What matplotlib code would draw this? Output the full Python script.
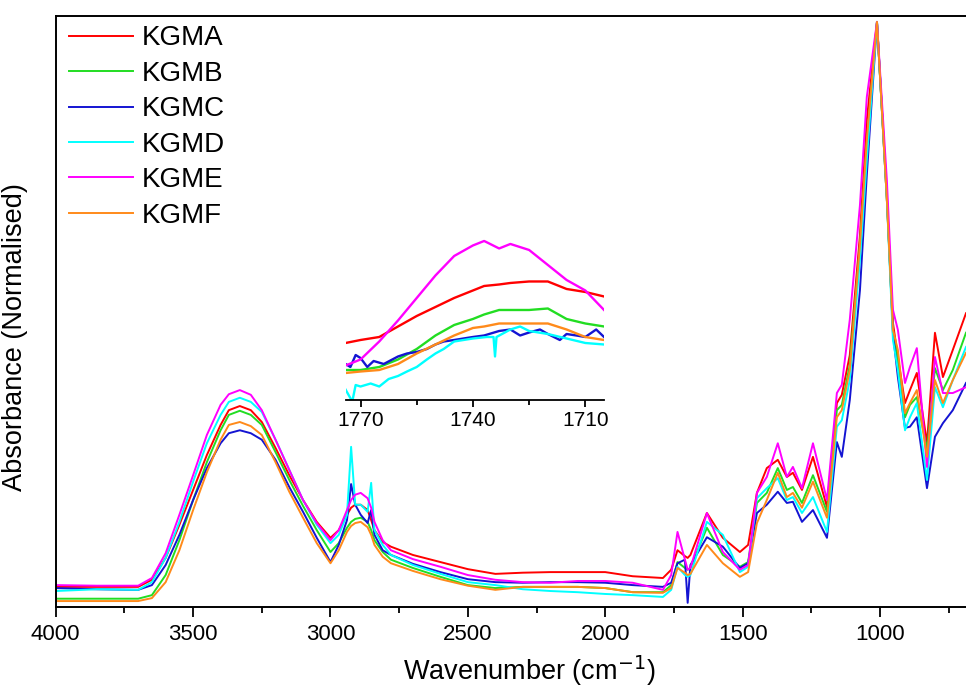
import matplotlib
matplotlib.use("Agg")
import matplotlib.pyplot as plt
from matplotlib.ticker import MultipleLocator, FixedLocator

plt.rcParams['font.family'] = ['Liberation Sans', 'DejaVu Sans']

# ---------------- data ----------------
wavenumber = [4000, 3850, 3700, 3650, 3600, 3550, 3500, 3450, 3400, 3370,
              3330, 3290, 3250, 3200, 3150, 3100, 3050, 3000, 2970, 2940,
              2925, 2910, 2890, 2865, 2852, 2840, 2810, 2780, 2700, 2600,
              2500, 2400, 2300, 2200, 2100, 2000, 1900, 1790, 1760, 1737,
              1710, 1700, 1690, 1630, 1572, 1510, 1480, 1448, 1412, 1372,
              1339, 1317, 1284, 1244, 1193, 1157, 1139, 1110, 1073, 1048,
              1011, 975, 953, 935, 909, 891, 866, 829, 800, 771,
              735, 687]

kgma = [0.034, 0.034, 0.034, 0.046, 0.083, 0.139, 0.198, 0.257, 0.308, 0.333,
        0.340, 0.333, 0.313, 0.269, 0.223, 0.181, 0.144, 0.117, 0.130, 0.156,
        0.168, 0.173, 0.173, 0.164, 0.147, 0.130, 0.110, 0.102, 0.088, 0.076,
        0.064, 0.056, 0.058, 0.059, 0.059, 0.059, 0.052, 0.049, 0.063, 0.096,
        0.086, 0.083, 0.088, 0.159, 0.117, 0.093, 0.105, 0.193, 0.235, 0.249,
        0.220, 0.227, 0.198, 0.254, 0.169, 0.345, 0.359, 0.426, 0.629, 0.824,
        0.990, 0.689, 0.481, 0.423, 0.345, 0.367, 0.396, 0.277, 0.464, 0.389,
        0.435, 0.497]

kgmb = [0.014, 0.014, 0.014, 0.020, 0.054, 0.113, 0.181, 0.245, 0.299, 0.325,
        0.332, 0.325, 0.308, 0.262, 0.215, 0.171, 0.130, 0.093, 0.108, 0.134,
        0.144, 0.149, 0.151, 0.144, 0.130, 0.113, 0.093, 0.080, 0.066, 0.051,
        0.037, 0.032, 0.034, 0.034, 0.034, 0.032, 0.025, 0.025, 0.037, 0.076,
        0.066, 0.063, 0.066, 0.134, 0.088, 0.068, 0.076, 0.176, 0.193, 0.235,
        0.198, 0.203, 0.176, 0.223, 0.161, 0.333, 0.342, 0.409, 0.613, 0.785,
        0.990, 0.689, 0.469, 0.418, 0.321, 0.342, 0.355, 0.266, 0.404, 0.367,
        0.401, 0.464]

kgmc = [0.032, 0.030, 0.029, 0.037, 0.071, 0.122, 0.181, 0.235, 0.277, 0.294,
        0.299, 0.294, 0.283, 0.249, 0.203, 0.161, 0.117, 0.076, 0.105, 0.147,
        0.208, 0.173, 0.156, 0.142, 0.164, 0.122, 0.096, 0.088, 0.073, 0.059,
        0.047, 0.042, 0.041, 0.042, 0.042, 0.041, 0.037, 0.034, 0.041, 0.074,
        0.080, 0.007, 0.071, 0.118, 0.102, 0.066, 0.074, 0.159, 0.173, 0.195,
        0.176, 0.178, 0.144, 0.164, 0.117, 0.279, 0.254, 0.350, 0.536, 0.731,
        0.990, 0.697, 0.464, 0.389, 0.303, 0.305, 0.321, 0.201, 0.288, 0.311,
        0.333, 0.379]

kgmd = [0.027, 0.030, 0.029, 0.042, 0.083, 0.144, 0.212, 0.277, 0.325, 0.347,
        0.354, 0.347, 0.330, 0.283, 0.232, 0.181, 0.139, 0.108, 0.122, 0.156,
        0.271, 0.173, 0.173, 0.161, 0.210, 0.130, 0.105, 0.088, 0.071, 0.056,
        0.042, 0.037, 0.030, 0.027, 0.025, 0.022, 0.020, 0.017, 0.029, 0.068,
        0.054, 0.051, 0.054, 0.144, 0.122, 0.059, 0.068, 0.184, 0.201, 0.218,
        0.181, 0.186, 0.159, 0.186, 0.127, 0.305, 0.316, 0.384, 0.587, 0.756,
        0.990, 0.689, 0.452, 0.401, 0.299, 0.321, 0.345, 0.215, 0.372, 0.338,
        0.384, 0.440]

kgme = [0.037, 0.036, 0.036, 0.049, 0.091, 0.156, 0.223, 0.291, 0.342, 0.360,
        0.367, 0.359, 0.333, 0.283, 0.232, 0.181, 0.142, 0.113, 0.130, 0.164,
        0.181, 0.190, 0.193, 0.184, 0.168, 0.144, 0.113, 0.096, 0.081, 0.068,
        0.054, 0.046, 0.042, 0.041, 0.044, 0.044, 0.041, 0.029, 0.054, 0.127,
        0.080, 0.063, 0.066, 0.159, 0.093, 0.063, 0.071, 0.193, 0.220, 0.277,
        0.220, 0.237, 0.201, 0.277, 0.181, 0.362, 0.376, 0.486, 0.680, 0.863,
        0.990, 0.722, 0.503, 0.469, 0.379, 0.406, 0.438, 0.237, 0.423, 0.362,
        0.362, 0.372]

kgmf = [0.010, 0.010, 0.010, 0.015, 0.042, 0.096, 0.164, 0.228, 0.283, 0.308,
        0.313, 0.306, 0.291, 0.245, 0.195, 0.151, 0.108, 0.074, 0.096, 0.127,
        0.137, 0.142, 0.144, 0.135, 0.122, 0.105, 0.085, 0.074, 0.061, 0.047,
        0.036, 0.029, 0.034, 0.034, 0.034, 0.032, 0.025, 0.024, 0.032, 0.066,
        0.058, 0.054, 0.056, 0.105, 0.074, 0.051, 0.059, 0.142, 0.181, 0.227,
        0.186, 0.193, 0.168, 0.212, 0.151, 0.321, 0.333, 0.401, 0.613, 0.790,
        0.990, 0.689, 0.469, 0.435, 0.328, 0.345, 0.367, 0.254, 0.384, 0.345,
        0.384, 0.430]

# inset (carbonyl region)
inset_w = [1774, 1770, 1765, 1760, 1755, 1750, 1745, 1740, 1737, 1733,
           1730, 1725, 1720, 1715, 1710, 1705]
inset_a = [0.058, 0.060, 0.062, 0.069, 0.076, 0.082, 0.088, 0.093, 0.096, 0.097,
           0.098, 0.099, 0.099, 0.094, 0.092, 0.089]
inset_b = [0.040, 0.040, 0.042, 0.047, 0.054, 0.063, 0.070, 0.074, 0.077, 0.080,
           0.080, 0.080, 0.081, 0.074, 0.071, 0.069]
inset_e = [0.043, 0.047, 0.059, 0.073, 0.088, 0.103, 0.116, 0.123, 0.126, 0.121,
           0.124, 0.120, 0.110, 0.100, 0.093, 0.080]
inset_f = [0.038, 0.039, 0.040, 0.044, 0.051, 0.057, 0.063, 0.068, 0.069, 0.071,
           0.071, 0.071, 0.071, 0.067, 0.062, 0.060]
inset_c_w = [1774.0, 1772.7, 1771.3, 1770.0, 1768.2, 1766.5, 1763.8, 1760.0, 1757.6, 1755.0,
             1752.3, 1750.0, 1747.8, 1745.0, 1742.5, 1740.0, 1737.0, 1733.0, 1730.0, 1727.4,
             1725.0, 1722.1, 1720.0, 1716.8, 1715.0, 1712.4, 1710.0, 1707.1, 1705.0]
inset_c = [0.044, 0.042, 0.050, 0.048, 0.042, 0.046, 0.044, 0.049, 0.051, 0.052,
           0.054, 0.057, 0.059, 0.060, 0.061, 0.062, 0.063, 0.066, 0.067, 0.063,
           0.065, 0.067, 0.064, 0.060, 0.064, 0.063, 0.062, 0.067, 0.062]
inset_d_w = [1774.0, 1772.2, 1771.3, 1770.0, 1767.3, 1765.0, 1762.5, 1760.0, 1757.6, 1755.0,
             1752.3, 1750.0, 1747.8, 1745.0, 1742.5, 1740.0, 1736.3, 1734.5, 1734.1, 1733.7,
             1730.0, 1727.4, 1725.0, 1720.0, 1715.0, 1710.0, 1705.0]
inset_d = [0.027, 0.019, 0.030, 0.029, 0.031, 0.029, 0.034, 0.036, 0.039, 0.042,
           0.047, 0.051, 0.054, 0.059, 0.060, 0.061, 0.062, 0.062, 0.049, 0.062,
           0.067, 0.069, 0.066, 0.064, 0.061, 0.058, 0.057]

labels = ['KGMA', 'KGMB', 'KGMC', 'KGMD', 'KGME', 'KGMF']
colors = ['#FF0000', '#22DD22', '#1414D2', '#00FFFF', '#FF00FF', '#FF8A1A']

x_ticks = [4000, 3500, 3000, 2500, 2000, 1500, 1000]
inset_ticks = [1770, 1740, 1710]

# ---------------- figure ----------------
fig = plt.figure(figsize=(9.66, 6.86), dpi=100)
ax = fig.add_axes([0.0577, 0.1152, 0.9423, 0.8615])

main_series = [kgma, kgmb, kgmc, kgmd, kgme, kgmf]
handles = []
for ys, c, lab in zip(main_series, colors, labels):
    h, = ax.plot(wavenumber, ys, color=c, lw=1.4, label=lab)
    handles.append(h)

ax.set_xlim(4000, 687)
ax.set_ylim(0, 1)
ax.xaxis.set_major_locator(FixedLocator(x_ticks))
ax.xaxis.set_minor_locator(MultipleLocator(250))
ax.set_yticks([])
ax.spines['right'].set_visible(False)
for s in ['left', 'bottom', 'top']:
    ax.spines[s].set_linewidth(1.4)
ax.tick_params(axis='x', which='major', direction='out', length=7, width=1.3,
               labelsize=16, pad=5)
ax.tick_params(axis='x', which='minor', direction='out', length=4.2, width=1.3)
ax.set_xlabel('Wavenumber (cm$^{-1}$)', fontsize=19.5)
ax.set_ylabel('Absorbance (Normalised)', fontsize=19.5)
ax.xaxis.set_label_coords(0.520, -0.078)
ax.yaxis.set_label_coords(-0.031, 0.457)

leg = ax.legend(handles=handles, loc='upper left',
                bbox_to_anchor=(0.0714, 0.963), bbox_transform=fig.transFigure,
                frameon=False, fontsize=20, handlelength=2.3, handletextpad=0.32,
                labelspacing=0.34, borderpad=0, borderaxespad=0)

# ---------------- inset ----------------
ins = fig.add_axes([0.3577, 0.4169, 0.2676, 0.2478])
ins.patch.set_alpha(0)
ins.plot(inset_w, inset_a, color=colors[0], lw=1.7)
ins.plot(inset_w, inset_b, color=colors[1], lw=1.7)
ins.plot(inset_c_w, inset_c, color=colors[2], lw=1.7)
ins.plot(inset_d_w, inset_d, color=colors[3], lw=1.7)
ins.plot(inset_w, inset_e, color=colors[4], lw=1.7)
ins.plot(inset_w, inset_f, color=colors[5], lw=1.7)
ins.set_xlim(1774, 1705)
ins.set_ylim(0.02, 0.1333)
for s in ['left', 'right', 'top']:
    ins.spines[s].set_visible(False)
ins.spines['bottom'].set_linewidth(1.3)
ins.set_yticks([])
ins.xaxis.set_major_locator(FixedLocator(inset_ticks))
ins.xaxis.set_minor_locator(FixedLocator([1755, 1725]))
ins.tick_params(axis='x', which='major', direction='out', length=5, width=1.3,
                labelsize=15, pad=3)
ins.tick_params(axis='x', which='minor', direction='out', length=3.5, width=1.3)

fig.savefig('out.png', dpi=100)
